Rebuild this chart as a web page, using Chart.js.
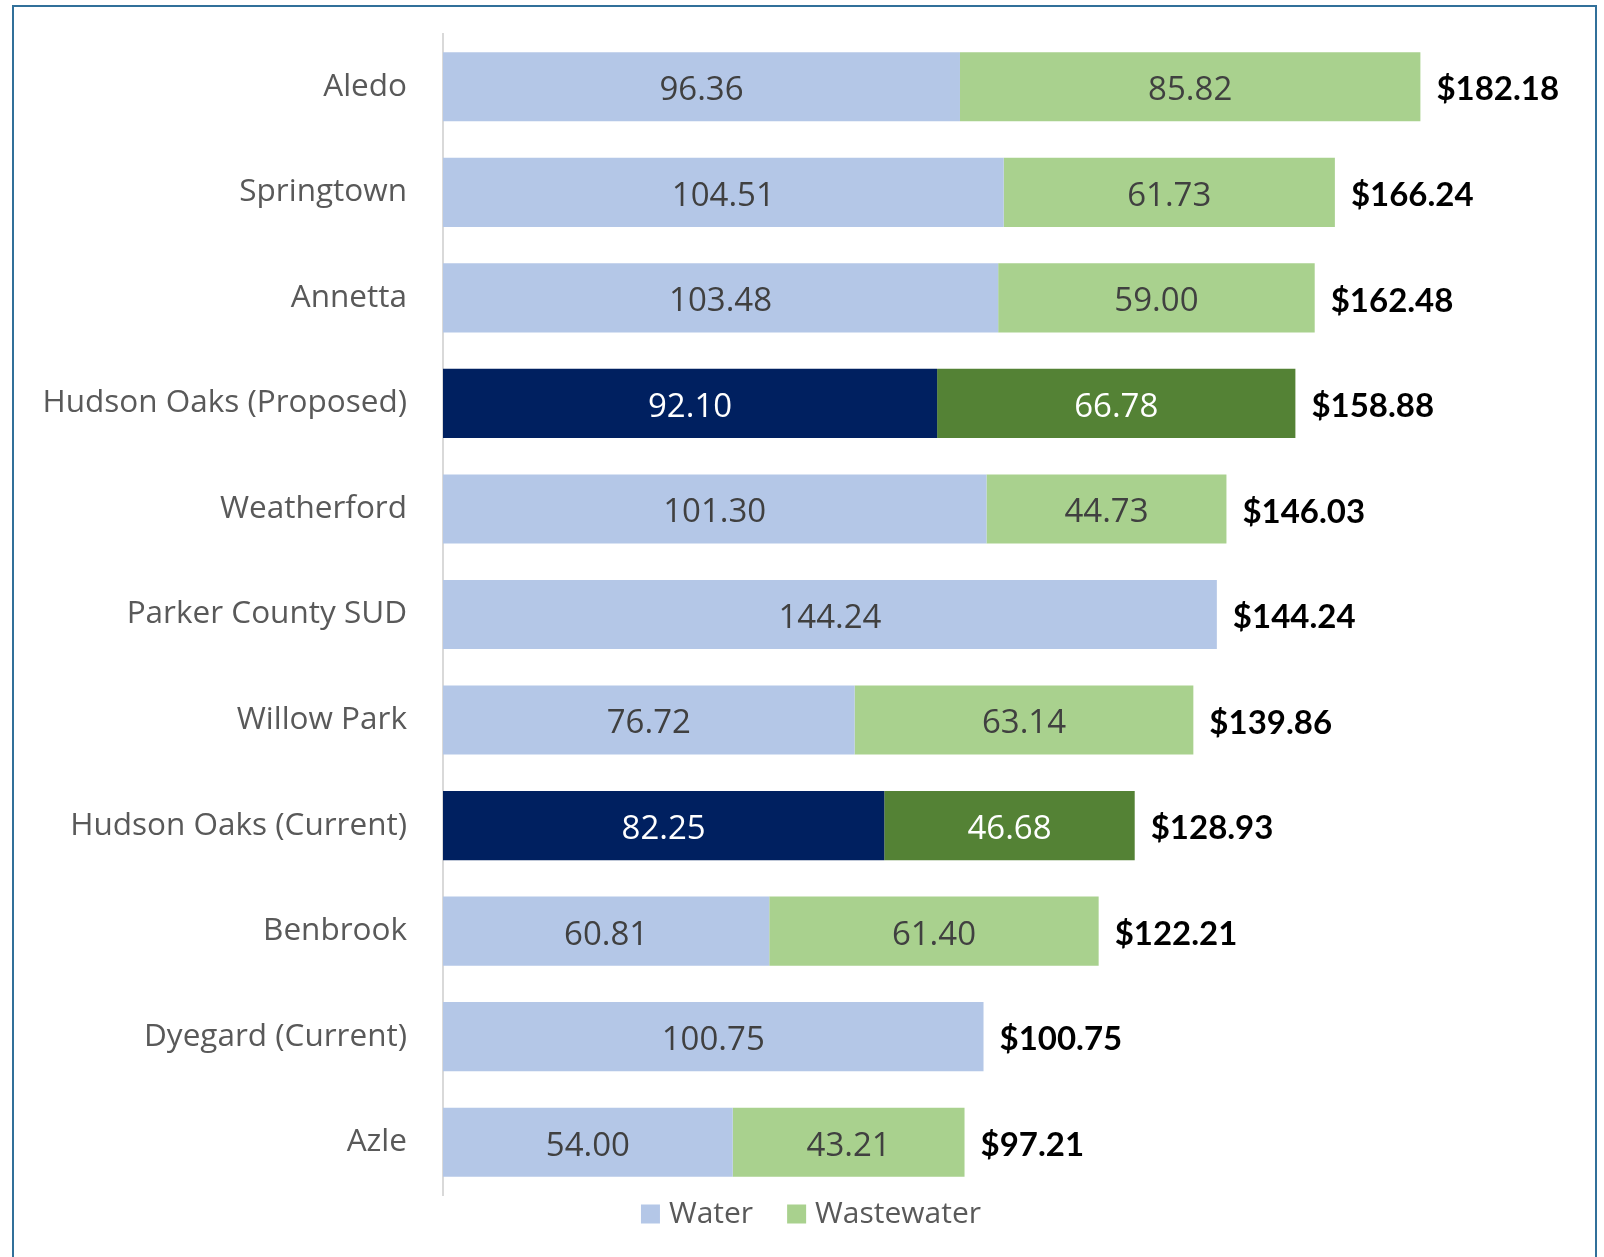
<!DOCTYPE html>
<html>
<head>
<meta charset="utf-8">
<script src="https://cdn.jsdelivr.net/npm/chart.js@4.4.1/dist/chart.umd.min.js"></script>
<style>
    html, body { margin: 0; padding: 0; background: #fff; overflow: hidden; }
    #wrap { position: relative; width: 1604px; height: 1257px; }
    #frame { position: absolute; left: 12px; top: 5px; width: 1581px; height: 1300px; border: 2px solid #31709a; }
    #rateChart { position: absolute; left: 0; top: 0; }
</style>
</head>
<body>
<div id="wrap">
    <div id="frame"></div>
    <canvas id="rateChart" width="1604" height="1257"></canvas>
</div>
<script>
const cities = [
    'Aledo', 'Springtown', 'Annetta', 'Hudson Oaks (Proposed)', 'Weatherford',
    'Parker County SUD', 'Willow Park', 'Hudson Oaks (Current)', 'Benbrook',
    'Dyegard (Current)', 'Azle'
];
const waterRates = [96.36, 104.51, 103.48, 92.10, 101.30, 144.24, 76.72, 82.25, 60.81, 100.75, 54.00];
const wastewaterRates = [85.82, 61.73, 59.00, 66.78, 44.73, null, 63.14, 46.68, 61.40, null, 43.21];
const highlightRows = [3, 7];

const waterLight = '#b4c7e7', waterDark = '#002060';
const wasteLight = '#a9d18e', wasteDark = '#548235';

const pick = (dark, light) => cities.map((c, i) => highlightRows.includes(i) ? dark : light);

// value labels in the bars + bold totals at the end of each stack
const barLabels = {
    id: 'barLabels',
    afterDatasetsDraw(chart) {
        const ctx = chart.ctx;
        ctx.save();
        ctx.textBaseline = 'middle';
        ctx.font = '33px "Open Sans"';
        ctx.textAlign = 'center';
        chart.data.datasets.forEach((ds, di) => {
            chart.getDatasetMeta(di).data.forEach((bar, i) => {
                const v = ds.data[i];
                if (v == null) return;
                ctx.fillStyle = highlightRows.includes(i) ? '#ffffff' : '#404040';
                ctx.fillText(v.toFixed(2), (bar.x + bar.base) / 2, bar.y + 4);
            });
        });

        const xs = chart.scales.x;
        const rows = chart.getDatasetMeta(0).data;
        ctx.font = 'bold 33px Lato';
        ctx.textAlign = 'left';
        ctx.fillStyle = '#000000';
        cities.forEach((c, i) => {
            const total = waterRates[i] + (wastewaterRates[i] || 0);
            ctx.fillText('$' + total.toFixed(2), xs.getPixelForValue(total) + 16, rows[i].y + 3);
        });
        ctx.restore();
    }
};

// legend drawn under the plot, centred on the canvas
const bottomLegend = {
    id: 'bottomLegend',
    afterDraw(chart) {
        const ctx = chart.ctx;
        const box = 19, gap = 9, spacing = 34;
        ctx.save();
        ctx.font = '30px "Open Sans"';
        ctx.textBaseline = 'middle';
        ctx.textAlign = 'left';
        const items = chart.data.datasets.map(ds => ({ text: ds.label, color: ds.legendColor }));
        const widths = items.map(it => box + gap + ctx.measureText(it.text).width);
        const total = widths.reduce((a, b) => a + b, 0) + spacing * (items.length - 1);
        let x = chart.width / 2 + 9 - total / 2;
        const y = chart.chartArea.bottom + 19;
        items.forEach((it, i) => {
            ctx.fillStyle = it.color;
            ctx.fillRect(x, y - box / 2, box, box);
            ctx.fillStyle = '#595959';
            ctx.fillText(it.text, x + box + gap, y);
            x += widths[i] + spacing;
        });
        ctx.restore();
    }
};

new Chart(document.getElementById('rateChart').getContext('2d'), {
    type: 'bar',
    data: {
        labels: cities,
        datasets: [{
            label: 'Water',
            data: waterRates,
            backgroundColor: pick(waterDark, waterLight),
            legendColor: waterLight,
            borderWidth: 0
        }, {
            label: 'Wastewater',
            data: wastewaterRates,
            backgroundColor: pick(wasteDark, wasteLight),
            legendColor: wasteLight,
            borderWidth: 0
        }]
    },
    options: {
        indexAxis: 'y',
        responsive: false,
        animation: false,
        datasets: {
            bar: { categoryPercentage: 1, barPercentage: 0.655 }
        },
        layout: {
            padding: { left: 0, right: 88, top: 34, bottom: 62 }
        },
        plugins: {
            legend: { display: false },
            tooltip: { enabled: false }
        },
        scales: {
            x: {
                stacked: true,
                display: false,
                min: 0,
                max: 200
            },
            y: {
                stacked: true,
                grid: { display: false, drawTicks: false },
                border: { display: true, color: '#d9d9d9', width: 2 },
                ticks: {
                    color: '#595959',
                    padding: 36,
                    font: { family: '"Open Sans"', size: 31.5 }
                },
                afterFit(scale) {
                    scale.width = 443;
                    scale.paddingTop = 0;
                    scale.paddingBottom = 0;
                }
            }
        }
    },
    plugins: [barLabels, bottomLegend]
});
</script>
</body>
</html>
